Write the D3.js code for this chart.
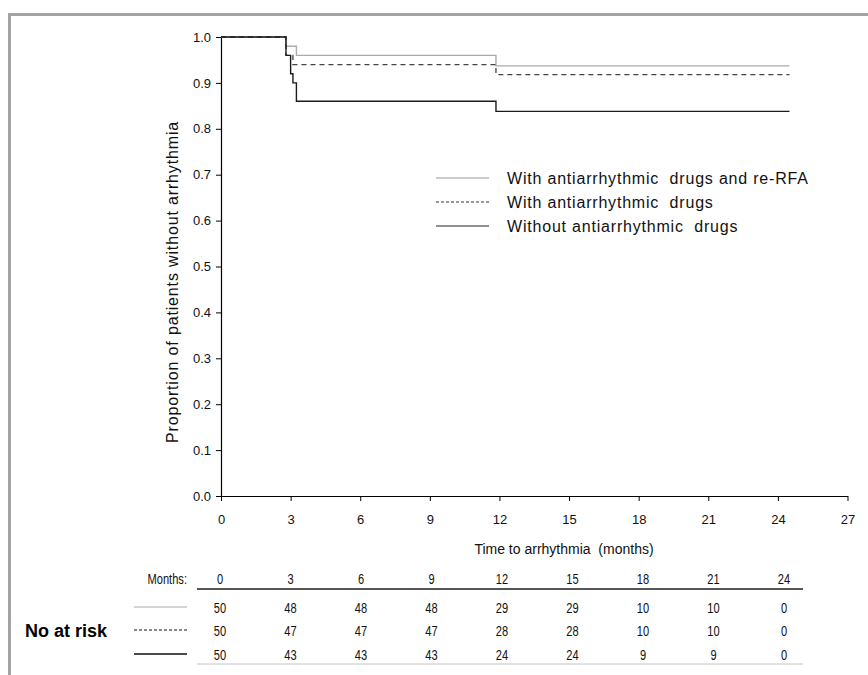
<!DOCTYPE html>
<html>
<head>
<meta charset="utf-8">
<script src="https://cdn.jsdelivr.net/npm/d3@7"></script>
<style>
  body { margin: 0; background: #fff; }
  svg { display: block; font-family: "Liberation Sans", Arial, sans-serif; }
</style>
</head>
<body>
<div id="graph"></div>
<script>
// ---- data ----
var seriesNames = ["With antiarrhythmic  drugs and re-RFA", "With antiarrhythmic  drugs", "Without antiarrhythmic  drugs"];

// step curves (time in months, proportion free of arrhythmia)
var rerfaTimes = [0, 2.8, 3.25, 11.85, 24.5];
var rerfaSurv  = [1.0, 0.98, 0.96, 0.937, 0.937];
var drugsTimes = [0, 2.8, 3.1, 11.85, 24.5];
var drugsSurv  = [1.0, 0.96, 0.94, 0.918, 0.918];
var noneTimes  = [0, 2.8, 3.0, 3.1, 3.25, 11.85, 24.5];
var noneSurv   = [1.0, 0.96, 0.92, 0.90, 0.86, 0.838, 0.838];

var xTicks = [0, 3, 6, 9, 12, 15, 18, 21, 24, 27];
var yTicks = [0, 0.1, 0.2, 0.3, 0.4, 0.5, 0.6, 0.7, 0.8, 0.9, 1.0];

// number at risk table
var riskMonths = [0, 3, 6, 9, 12, 15, 18, 21, 24];
var riskRerfa  = [50, 48, 48, 48, 29, 29, 10, 10, 0];
var riskDrugs  = [50, 47, 47, 47, 28, 28, 10, 10, 0];
var riskNone   = [50, 43, 43, 43, 24, 24, 9, 9, 0];

var width = 868, height = 675;

var lineStyles = [
  { stroke: "#ababab", dash: null, w: 1.4 },
  { stroke: "#444", dash: "5,4", w: 1.3 },
  { stroke: "#1a1a1a", dash: null, w: 1.4 }
];

function toPoints(times, surv) {
  return times.map(function (t, i) { return { t: t, s: surv[i] }; });
}

var curves = [toPoints(rerfaTimes, rerfaSurv), toPoints(drugsTimes, drugsSurv), toPoints(noneTimes, noneSurv)];
var riskRows = [riskRerfa, riskDrugs, riskNone];

var svg = d3.select("#graph").append("svg")
  .attr("width", width)
  .attr("height", height);

// outer frame (top and left edge only)
svg.append("line").attr("x1", 8).attr("x2", width).attr("y1", 14.5).attr("y2", 14.5)
  .attr("stroke", "#a3a3a3").attr("stroke-width", 3);
svg.append("line").attr("x1", 9.5).attr("x2", 9.5).attr("y1", 13).attr("y2", height)
  .attr("stroke", "#a3a3a3").attr("stroke-width", 3);

var xScale = d3.scaleLinear().domain([0, 27]).range([221, 847.5]);
var yScale = d3.scaleLinear().domain([0, 1]).range([496, 37]);

// axes
var xAxis = svg.append("g")
  .attr("transform", "translate(0," + yScale(0) + ")")
  .call(d3.axisBottom(xScale).tickValues(xTicks).tickSize(5).tickSizeOuter(0).tickFormat(d3.format("d")));
var yAxis = svg.append("g")
  .attr("transform", "translate(" + xScale(0) + ",0)")
  .call(d3.axisLeft(yScale).tickValues(yTicks).tickSize(5).tickSizeOuter(0).tickFormat(d3.format(".1f")));

[xAxis, yAxis].forEach(function (ax) {
  ax.attr("font-family", "Liberation Sans, Arial, sans-serif").attr("font-size", 13);
  ax.select(".domain").attr("stroke", "#000").attr("stroke-width", 1.2);
  ax.selectAll(".tick line").attr("stroke", "#000");
  ax.selectAll(".tick text").attr("fill", "#111");
});
xAxis.selectAll(".tick text").attr("dy", null).attr("y", 28);
yAxis.selectAll(".tick text").attr("x", -10);

// axis titles
svg.append("text")
  .attr("transform", "translate(178,282) rotate(-90)")
  .attr("text-anchor", "middle")
  .style("font-size", "16px").style("letter-spacing", "0.85px").attr("fill", "#111")
  .text("Proportion of patients without arrhythmia");
svg.append("text")
  .attr("x", 564).attr("y", 554)
  .attr("text-anchor", "middle")
  .style("font-size", "14px").style("white-space", "pre").attr("fill", "#111")
  .text("Time to arrhythmia  (months)");

// survival curves
var line = d3.line()
  .x(function (d) { return xScale(d.t); })
  .y(function (d) { return yScale(d.s); })
  .curve(d3.curveStepAfter);

curves.forEach(function (c, i) {
  svg.append("path")
    .datum(c)
    .attr("d", line)
    .attr("fill", "none")
    .attr("stroke", lineStyles[i].stroke)
    .attr("stroke-width", lineStyles[i].w)
    .attr("stroke-dasharray", lineStyles[i].dash);
});

// legend
var legendY = [178, 202, 226];
seriesNames.forEach(function (name, i) {
  svg.append("line")
    .attr("x1", 436).attr("x2", 489).attr("y1", legendY[i]).attr("y2", legendY[i])
    .attr("stroke", i == 0 ? "#999" : (i == 1 ? "#333" : "#222"))
    .attr("stroke-width", i == 0 ? 1 : 1.2)
    .attr("stroke-dasharray", i == 1 ? "3,2" : null);
  svg.append("text")
    .attr("x", 507).attr("y", legendY[i] + 6)
    .style("font-size", "16px").style("letter-spacing", "0.8px").style("white-space", "pre").attr("fill", "#111")
    .text(name);
});

// number at risk table (condensed figures)
var colScale = d3.scaleLinear().domain([0, 24]).range([220, 784]);
var rowY = [607, 630, 654];

function narrowText(x, y, anchor, txt) {
  svg.append("text")
    .attr("transform", "translate(" + x + "," + y + ") scale(0.74,1)")
    .attr("text-anchor", anchor)
    .style("font-size", "15px").attr("fill", "#111")
    .text(txt);
}

narrowText(187, 584, "end", "Months:");
riskMonths.forEach(function (m) { narrowText(colScale(m), 584, "middle", m); });

svg.append("line").attr("x1", 197).attr("x2", 803).attr("y1", 589).attr("y2", 589)
  .attr("stroke", "#555").attr("stroke-width", 2);
svg.append("line").attr("x1", 197).attr("x2", 803).attr("y1", 664).attr("y2", 664)
  .attr("stroke", "#c4c4c4").attr("stroke-width", 1);

riskRows.forEach(function (row, i) {
  svg.append("line")
    .attr("x1", 134).attr("x2", 187).attr("y1", rowY[i]).attr("y2", rowY[i])
    .attr("stroke", i == 0 ? "#aaa" : "#111")
    .attr("stroke-width", i == 2 ? 1.4 : 1)
    .attr("stroke-dasharray", i == 1 ? "3,2" : null);
  row.forEach(function (v, j) {
    narrowText(colScale(riskMonths[j]), rowY[i] + 5.5, "middle", v);
  });
});

svg.append("text")
  .attr("x", 25).attr("y", 637)
  .style("font-size", "18px").style("font-weight", "bold").attr("fill", "#000")
  .text("No at risk");
</script>
</body>
</html>
